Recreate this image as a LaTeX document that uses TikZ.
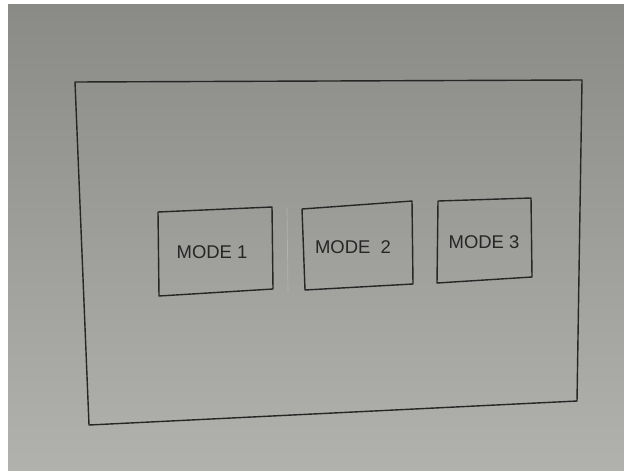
\documentclass[tikz,border=0pt]{standalone}
\usepackage{fontspec}
\setmainfont{Liberation Sans}
\definecolor{papertop}{HTML}{8A8A87}
\definecolor{paperbot}{HTML}{B1B2AE}
\definecolor{ink}{HTML}{262626}
\begin{document}
\begin{tikzpicture}[x=0.02cm,y=-0.02cm,
    sketch/.style={draw=ink,line width=0.8pt,line join=round},
    modelabel/.style={font=\fontsize{10.5}{12}\selectfont,text=ink,inner sep=0pt}]
    \useasboundingbox (0,0) rectangle (624,470);
    \fill[white] (0,0) rectangle (624,470);
    \shade[top color=papertop,bottom color=paperbot] (8,4) rectangle (624,470);
    % outer sheet
    \draw[sketch] (75,82) -- (582,80) -- (577,401) -- (89,425) -- cycle;
    % faint pencil mark
    \draw[black!30,line width=0.4pt] (287,208) -- (288,292);
    \foreach \n/\xa/\ya/\xb/\yb/\xc/\yc/\xd/\yd/\tx/\ty/\t in {
        1/158/212/272/207/273/289/159/296/212/252/{MODE~1},
        2/302/209/412/201/413/284/305/290/353/247/{MODE~~2},
        3/438/201/531/198/532/277/437/283/484/242/{MODE~3}}{
      \draw[sketch] (\xa,\ya) -- (\xb,\yb) -- (\xc,\yc) -- (\xd,\yd) -- cycle;
      \node[modelabel] (mode\n) at (\tx,\ty) {\t};
    }
\end{tikzpicture}
\end{document}
